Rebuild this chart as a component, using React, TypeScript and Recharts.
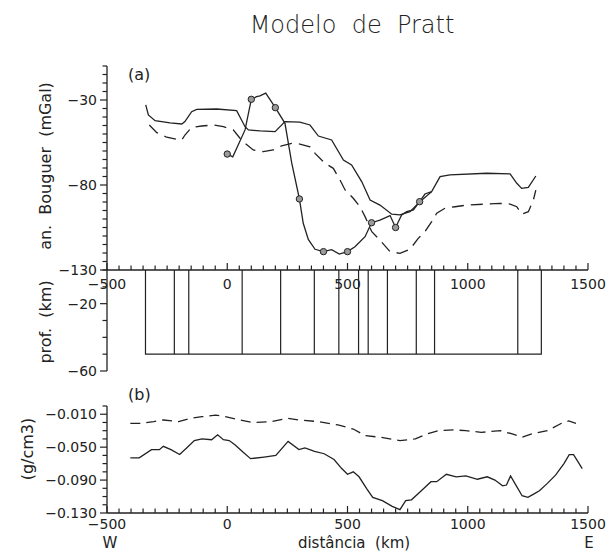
import React from 'react';
import { LineChart, Line, XAxis, YAxis } from 'recharts';

// ---------- Panel (a): Bouguer anomaly (mGal) vs distance (km) ----------
const anomalySolid: [number, number][] = [
  [-339, -32.9], [-328, -38.8], [-300, -42.2], [-238, -43.4], [-189, -44.1], [-176, -42.7],
  [-148, -36.9], [-127, -35.5], [-44, -35.3], [39, -36.3], [74, -45.7], [88, -47.6],
  [136, -48.2], [199, -48.6], [240, -42.7], [302, -43], [344, -44.7], [379, -51.2],
  [434, -53.5], [483, -65.3], [517, -68.2], [559, -78], [594, -88.8], [635, -91.8],
  [684, -97.2], [718, -97.6], [760, -95.7], [801, -89.8], [850, -83.9], [885, -75.1],
  [926, -74.1], [1079, -73.1], [1176, -73.5], [1204, -79], [1224, -82], [1252, -81.4],
  [1283, -74.7],
];

const anomalyDashed: [number, number][] = [
  [-324, -44.7], [-293, -49.2], [-252, -51.9], [-210, -53.1], [-189, -53.5], [-176, -50.6],
  [-148, -46.1], [-106, -45.3], [-58, -44.7], [-16, -45.7], [25, -47.6], [53, -52.5],
  [74, -55.5], [108, -59.4], [150, -60.4], [191, -59.4], [226, -57], [268, -55.5],
  [302, -55.9], [344, -57.5], [365, -61.4], [406, -67.2], [441, -70.2], [469, -77.1],
  [490, -82.9], [524, -87.8], [552, -92.8], [573, -98.6], [601, -107.5], [635, -112.4],
  [677, -119.2], [718, -120.2], [760, -117.8], [794, -111.4], [822, -107.5], [850, -101.6],
  [871, -96.6], [905, -93.7], [947, -92.8], [996, -91.8], [1079, -91.2], [1134, -90.8],
  [1176, -91.2], [1204, -92.8], [1224, -97.1], [1252, -95.7], [1273, -88.8], [1283, -83],
];

const anomalyObserved: [number, number][] = [
  [0, -61.8], [23, -63.4], [74, -47.6], [100, -29.6], [122, -28], [136, -27.6], [160, -26],
  [200, -34.5], [240, -43.7], [268, -67], [300, -88.2], [316, -102.5], [337, -112],
  [365, -117.8], [400, -119.2], [434, -118], [466, -120.6], [500, -119.2], [531, -116.3],
  [573, -110.4], [600, -102.2], [635, -100.6], [677, -98], [700, -105], [725, -97.6],
  [746, -95.7], [774, -94.7], [800, -89.8], [822, -85.3], [850, -83.9],
];
const observedMarkerKm = [0, 100, 200, 300, 400, 500, 600, 700, 800];

// ---------- Depth panel: block model ----------
const blockEdgesKm = [-340, -220, -160, 62, 222, 362, 464, 546, 586, 666, 786, 862, 1208, 1306];
const blockBaseKm = -50;

// ---------- Panel (b): density contrast (g/cm3) ----------
const densitySolid: [number, number][] = [
  [-403, -0.063], [-366, -0.063], [-315, -0.053], [-282, -0.053], [-266, -0.049], [-234, -0.053],
  [-198, -0.059], [-169, -0.051], [-137, -0.042], [-105, -0.04], [-65, -0.041], [-40, -0.035],
  [-16, -0.041], [8, -0.042], [32, -0.047], [65, -0.056], [97, -0.064], [153, -0.062],
  [202, -0.06], [253, -0.043], [298, -0.053], [323, -0.051], [363, -0.055], [403, -0.058],
  [444, -0.065], [476, -0.076], [500, -0.083], [524, -0.08], [548, -0.086], [581, -0.101],
  [605, -0.111], [645, -0.115], [686, -0.122], [718, -0.126], [742, -0.115], [766, -0.114],
  [807, -0.103], [847, -0.092], [871, -0.092], [911, -0.083], [952, -0.086], [992, -0.085],
  [1040, -0.089], [1081, -0.086], [1113, -0.09], [1145, -0.097], [1161, -0.096], [1178, -0.085],
  [1202, -0.097], [1226, -0.109], [1250, -0.111], [1274, -0.107], [1298, -0.103], [1331, -0.094],
  [1365, -0.084], [1400, -0.07], [1422, -0.059], [1440, -0.059], [1476, -0.076],
];

const densityDashed: [number, number][] = [
  [-403, -0.021], [-355, -0.021], [-306, -0.019], [-266, -0.017], [-202, -0.019], [-153, -0.015],
  [-105, -0.013], [-48, -0.011], [-8, -0.013], [56, -0.017], [105, -0.02], [185, -0.019],
  [250, -0.015], [298, -0.017], [379, -0.019], [460, -0.023], [524, -0.028], [573, -0.036],
  [637, -0.038], [718, -0.042], [782, -0.04], [831, -0.034], [879, -0.03], [944, -0.029],
  [992, -0.03], [1056, -0.032], [1137, -0.03], [1185, -0.034], [1226, -0.038], [1266, -0.034],
  [1331, -0.03], [1390, -0.021], [1420, -0.018], [1450, -0.021],
];

// ---------- Ticks ----------
const distDomain: [number, number] = [-500, 1500];
const distTickLabels = [-500, 0, 500, 1000, 1500];
const distTicks = Array.from({ length: 41 }, (_, i) => -500 + 50 * i);
const anomalyTickLabels = [-130, -80, -30];
const anomalyTicks = Array.from({ length: 25 }, (_, i) => -130 + 5 * i);
const depthTickLabels = [-20, -60];
const depthTicks = [0, -10, -20, -30, -40, -50, -60];
const densityTickLabels = [-0.13, -0.09, -0.05, -0.01];
const densityTicks = Array.from({ length: 14 }, (_, i) => Math.round((-0.13 + 0.01 * i) * 1000) / 1000);

const FONT = "'DejaVu Sans', 'Liberation Sans', sans-serif";
const INK = '#222222';

const toPts = (arr: [number, number][]) => arr.map(([x, y]) => ({ x, y }));
const isIn = (list: number[], v: number) => list.some((l) => Math.abs(l - v) < 1e-9);
const fmtInt = (v: number) => (v < 0 ? '\u2212' : '') + Math.abs(v).toString();
const fmtDen = (v: number) => (v < 0 ? '\u2212' : '') + Math.abs(v).toFixed(3);

const blockPath = (() => {
  const pts: { x: number; y: number }[] = [];
  blockEdgesKm.forEach((b, i) => {
    if (i === 0) {
      pts.push({ x: b, y: 0 }, { x: b, y: blockBaseKm });
    } else {
      pts.push({ x: b, y: blockBaseKm }, { x: b, y: 0 }, { x: b, y: blockBaseKm });
    }
  });
  return pts;
})();

const observedPts = anomalyObserved.map(([x, y]) => ({ x, y, m: observedMarkerKm.includes(x) }));

const makeXTick = (labels: number[], fmt: (v: number) => string, labelDy: number) => (props: any) => {
  const { x, y, payload } = props;
  const v = payload.value;
  const major = isIn(labels, v);
  return (
    <g key={`xt-${v}`}>
      <line x1={x} x2={x} y1={y} y2={y - (major ? 7 : 4.5)} stroke={INK} strokeWidth={1.2} />
      {major && (
        <text x={x} y={y + labelDy} textAnchor="middle" fontSize={14} fontFamily={FONT} fill={INK}>
          {fmt(v)}
        </text>
      )}
    </g>
  );
};

const makeYTick = (labels: number[], fmt: (v: number) => string) => (props: any) => {
  const { x, y, payload } = props;
  const v = payload.value;
  const major = isIn(labels, v);
  const len = major ? 7 : 4.5;
  return (
    <g key={`yt-${v}`}>
      <line x1={x - len} x2={x} y1={y} y2={y} stroke={INK} strokeWidth={1.2} />
      {major && (
        <text x={x - len - 3} y={y + 5} textAnchor="end" fontSize={14} fontFamily={FONT} fill={INK}>
          {fmt(v)}
        </text>
      )}
    </g>
  );
};

const markerDot = (props: any) => {
  const { cx, cy, payload, index } = props;
  if (!payload || !payload.m) return <g key={`d-${index}`} />;
  return <circle key={`d-${index}`} cx={cx} cy={cy} r={3.2} fill="#9a9a9a" stroke={INK} strokeWidth={1} />;
};

const axisStroke = { stroke: INK, strokeWidth: 1.3 };

export default function App() {
  return (
    <div style={{ position: 'absolute', left: 0, top: 0, width: 610, height: 552, background: '#fff', overflow: 'hidden' }}>
      {/* depth panel */}
      <div style={{ position: 'absolute', left: 0, top: 250 }}>
        <LineChart width={610} height={140} margin={{ top: 20, right: 22, bottom: 19, left: 0 }}>
          <XAxis dataKey="x" type="number" domain={distDomain} hide allowDataOverflow />
          <YAxis
            type="number"
            domain={[-60, 0]}
            ticks={depthTicks}
            interval={0}
            width={107}
            tickSize={0}
            tickMargin={0}
            tickLine={false}
            axisLine={axisStroke}
            tick={makeYTick(depthTickLabels, fmtInt)}
          />
          <Line data={blockPath} dataKey="y" stroke={INK} strokeWidth={1.2} dot={false} isAnimationActive={false} />
        </LineChart>
      </div>

      {/* panel (a) */}
      <div style={{ position: 'absolute', left: 0, top: 0 }}>
        <LineChart width={610} height={300} margin={{ top: 66, right: 22, bottom: 0, left: 0 }}>
          <XAxis
            dataKey="x"
            type="number"
            domain={distDomain}
            ticks={distTicks}
            interval={0}
            height={30}
            tickSize={0}
            tickMargin={0}
            tickLine={false}
            axisLine={axisStroke}
            tick={makeXTick(distTickLabels, fmtInt, 19)}
            allowDataOverflow
          />
          <YAxis
            type="number"
            domain={[-130, -10]}
            ticks={anomalyTicks}
            interval={0}
            width={107}
            tickSize={0}
            tickMargin={0}
            tickLine={false}
            axisLine={axisStroke}
            tick={makeYTick(anomalyTickLabels, fmtInt)}
            allowDataOverflow
          />
          <Line data={toPts(anomalySolid)} dataKey="y" stroke={INK} strokeWidth={1.3} dot={false} isAnimationActive={false} />
          <Line data={toPts(anomalyDashed)} dataKey="y" stroke={INK} strokeWidth={1.3} strokeDasharray="12 7" dot={false} isAnimationActive={false} />
          <Line data={observedPts} dataKey="y" stroke={INK} strokeWidth={1.3} dot={markerDot} isAnimationActive={false} />
        </LineChart>
      </div>

      {/* panel (b) */}
      <div style={{ position: 'absolute', left: 0, top: 380 }}>
        <LineChart width={610} height={172} margin={{ top: 26, right: 22, bottom: 0, left: 0 }}>
          <XAxis
            dataKey="x"
            type="number"
            domain={distDomain}
            ticks={distTicks}
            interval={0}
            height={39}
            tickSize={0}
            tickMargin={0}
            tickLine={false}
            axisLine={axisStroke}
            tick={makeXTick(distTickLabels, fmtInt, 16)}
            allowDataOverflow
          />
          <YAxis
            type="number"
            domain={[-0.13, 0]}
            ticks={densityTicks}
            interval={0}
            width={107}
            tickSize={0}
            tickMargin={0}
            tickLine={false}
            axisLine={axisStroke}
            tick={makeYTick(densityTickLabels, fmtDen)}
            allowDataOverflow
          />
          <Line data={toPts(densitySolid)} dataKey="y" stroke={INK} strokeWidth={1.3} dot={false} isAnimationActive={false} />
          <Line data={toPts(densityDashed)} dataKey="y" stroke={INK} strokeWidth={1.3} strokeDasharray="10 6" dot={false} isAnimationActive={false} />
        </LineChart>
      </div>

      {/* texts */}
      <svg width={610} height={552} style={{ position: 'absolute', left: 0, top: 0, pointerEvents: 'none' }}>
        <text x={352} y={33} textAnchor="middle" fontSize={24} fontWeight={200} fontFamily={FONT} fill={INK} style={{ whiteSpace: 'pre' }}>
          {'Modelo  de  Pratt'}
        </text>
        <text x={128} y={80} fontSize={16} fontFamily={FONT} fill={INK}>(a)</text>
        <text x={128} y={400} fontSize={16} fontFamily={FONT} fill={INK}>(b)</text>
        <text x={0} y={0} transform="translate(51,166) rotate(-90)" textAnchor="middle" fontSize={16} fontFamily={FONT} fill={INK} style={{ whiteSpace: 'pre' }}>
          {'an.  Bouguer  (mGal)'}
        </text>
        <text x={0} y={0} transform="translate(51,322) rotate(-90)" textAnchor="middle" fontSize={16} fontFamily={FONT} fill={INK} style={{ whiteSpace: 'pre' }}>
          {'prof.  (km)'}
        </text>
        <text x={0} y={0} transform="translate(33,449) rotate(-90)" textAnchor="middle" fontSize={16} fontFamily={FONT} fill={INK}>
          (g/cm3)
        </text>
        <text x={354} y={548} textAnchor="middle" fontSize={15} fontFamily={FONT} fill={INK} style={{ whiteSpace: 'pre' }}>
          {'distância  (km)'}
        </text>
        <text x={110} y={548} textAnchor="middle" fontSize={15} fontFamily={FONT} fill={INK}>W</text>
        <text x={589} y={548} textAnchor="middle" fontSize={15} fontFamily={FONT} fill={INK}>E</text>
      </svg>
    </div>
  );
}
